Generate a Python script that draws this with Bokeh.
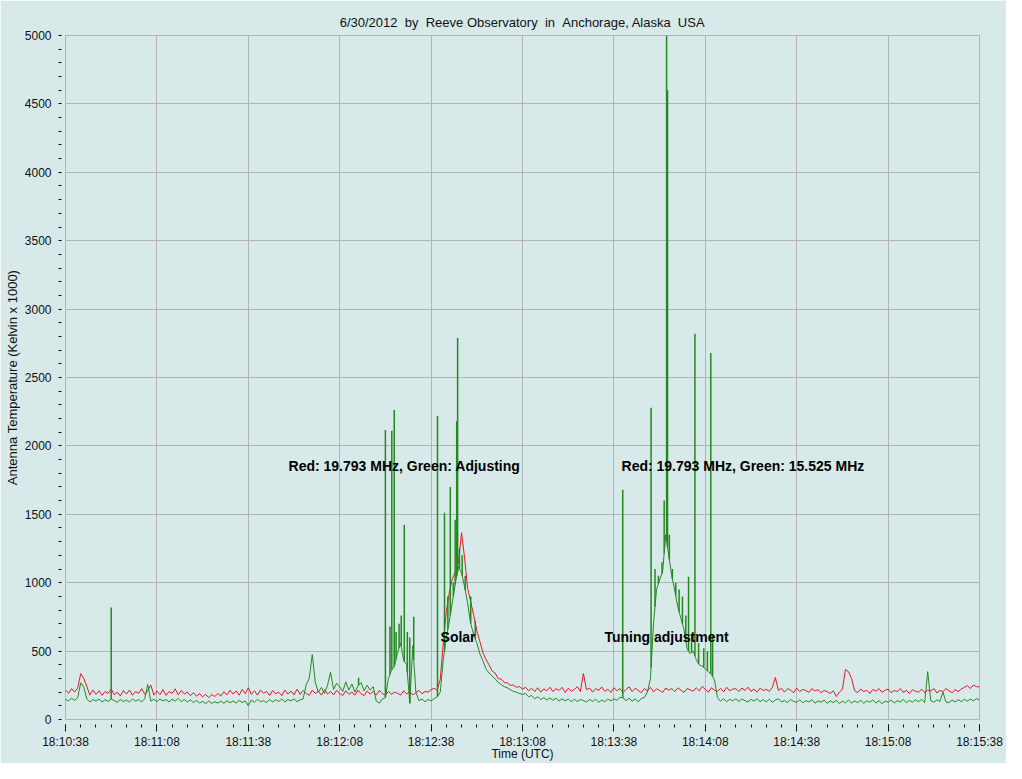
import numpy as np
from bokeh.plotting import figure
from bokeh.models import FixedTicker, Range1d, Label
from bokeh.embed import file_html
from bokeh.resources import INLINE

# ---------------- data ----------------
# time in seconds after 18:10:38 UTC, one sample per second
seconds = list(range(0, 301))

red_19793 = [
    215, 192, 226, 200, 230, 335, 300, 242, 178, 216,
    184, 210, 176, 205, 190, 222, 181, 200, 172, 212,
    186, 215, 178, 204, 192, 226, 184, 210, 252, 178,
    208, 182, 219, 176, 205, 190, 224, 180, 212, 186,
    201, 174, 196, 170, 190, 165, 185, 160, 182, 168,
    190, 172, 203, 180, 214, 186, 208, 178, 220, 190,
    232, 184, 210, 178, 216, 192, 205, 176, 212, 188,
    200, 174, 215, 186, 208, 180, 222, 184, 212, 190,
    176, 214, 190, 206, 178, 218, 186, 204, 180, 212,
    190, 176, 210, 184, 200, 178, 215, 188, 174, 208,
    186, 205, 178, 212, 190, 176, 206, 184, 200, 192,
    178, 210, 186, 204, 180, 196, 212, 188, 205, 200,
    218, 228, 215, 292, 560, 790, 930, 1030, 1080, 1150,
    1365, 1180, 960, 860, 760, 650, 570, 490, 440, 400,
    355, 340, 300, 295, 270, 268, 250, 252, 236, 240,
    222, 236, 210, 228, 205, 232, 200, 224, 210, 236,
    204, 226, 212, 235, 198, 228, 206, 220, 240, 204,
    336, 218, 230, 200, 226, 212, 238, 206, 222, 198,
    232, 210, 226, 196, 220, 238, 204, 228, 212, 196,
    226, 208, 235, 202, 224, 212, 198, 230, 214, 226,
    204, 232, 214, 198, 226, 218, 206, 232, 210, 242,
    220, 200, 232, 214, 206, 228, 202, 236, 210, 222,
    226, 204, 230, 212, 236, 206, 222, 200, 230, 212,
    220, 206, 234, 307, 212, 228, 200, 226, 214, 196,
    230, 204, 220, 212, 198, 226, 208, 218, 196, 212,
    204, 190, 210, 168, 200, 222, 365, 350, 300, 212,
    196, 222, 204, 214, 190, 220, 206, 226, 198, 214,
    222, 196, 212, 204, 226, 198, 214, 190, 218, 206,
    200, 222, 196, 214, 208, 226, 194, 212, 204, 226,
    210, 196, 218, 204, 222, 235, 248, 226, 252, 240,
    238,
]

green_channel = [
    148, 136, 155, 140, 158, 268, 236, 150, 128, 146,
    134, 150, 128, 145, 132, 150, 138, 126, 146, 132,
    142, 128, 150, 134, 146, 128, 152, 256, 134, 148,
    130, 150, 136, 146, 128, 150, 134, 154, 130, 146,
    128, 144, 124, 140, 120, 132, 116, 134, 118, 130,
    120, 134, 118, 138, 122, 136, 120, 140, 124, 136,
    100, 142, 126, 148, 130, 138, 124, 146, 128, 144,
    132, 150, 128, 146, 136, 152, 130, 144, 150, 255,
    300, 475, 270, 200, 235, 190, 250, 345, 220, 265,
    240, 205, 275, 215, 260, 200, 245, 270, 210, 250,
    215, 240, 135, 120, 150, 160, 300, 360, 390, 490,
    560, 430, 400, 118, 540, 200, 138, 150, 130, 146,
    136, 152, 165, 200, 438, 600, 720, 860, 1000, 1117,
    1070, 970, 850, 700, 620, 560, 480, 430, 370, 340,
    320, 296, 272, 255, 240, 232, 218, 205, 200, 190,
    184, 190, 166, 176, 152, 166, 146, 160, 142, 158,
    140, 156, 134, 152, 136, 150, 130, 148, 132, 146,
    138, 128, 146, 132, 148, 126, 142, 130, 150, 136,
    152, 140, 162, 158, 138, 156, 134, 150, 130, 154,
    160, 200, 300, 700, 950, 1020, 1080, 1350, 1200, 1050,
    940, 820, 740, 660, 520, 480, 500, 440, 400, 390,
    370, 350, 330, 290, 160, 134, 152, 130, 148, 136,
    152, 132, 150, 138, 128, 148, 134, 152, 130, 146,
    128, 148, 126, 142, 152, 128, 140, 124, 146, 132,
    126, 144, 122, 138, 128, 146, 120, 136, 126, 142,
    118, 136, 124, 140, 116, 134, 122, 142, 120, 136,
    124, 140, 118, 136, 126, 144, 120, 138, 116, 134,
    126, 142, 120, 138, 128, 146, 122, 140, 126, 144,
    130, 146, 124, 350, 138, 126, 144, 132, 200, 128,
    124, 142, 128, 146, 130, 148, 134, 150, 136, 152,
    144,
]

# narrow interference spikes / jagged strokes on the green channel (time s, peak value)
green_spike_t = [15, 96.2,
                 105, 106.5, 107.1, 107.9, 108.5, 109.5, 110.2, 111.2, 112.2, 113.0, 114.3,
                 122.1, 124.4, 125.5, 126.3, 127.3, 127.9, 128.4, 128.7, 129.3, 130.2, 131.2,
                 133.0, 134.5,
                 182.9, 192.2, 193.5, 194.6, 195.8, 196.5, 197.3, 197.6, 198.2, 199.2,
                 200.3, 201.4, 202.5, 203.6, 204.5, 205.5, 206.6, 207.8, 209.5, 210.7,
                 211.8, 212.4]
green_spike_peak = [818, 306,
                    2117, 680, 2110, 2263, 640, 700, 760, 1424, 640, 600, 752,
                    2219, 1511, 900, 1700, 1000, 1460, 2180, 2789, 1250, 1200, 1050,
                    900, 720,
                    1679, 2278, 1100, 1050, 1150, 1600, 5000, 4600, 1350, 1100,
                    1000, 950, 900, 760, 1044, 620, 2820, 560, 520, 500,
                    2680, 620]

x_tick_values = [0, 30, 60, 90, 120, 150, 180, 210, 240, 270, 300]
x_tick_labels = ["18:10:38", "18:11:08", "18:11:38", "18:12:08", "18:12:38",
                 "18:13:08", "18:13:38", "18:14:08", "18:14:38", "18:15:08",
                 "18:15:38"]

note_text = ["Red: 19.793 MHz, Green: Adjusting", "Red: 19.793 MHz, Green: 15.525 MHz",
             "Solar", "Tuning adjustment"]
note_t = [73.2, 182.5, 123.1, 176.9]
note_v = [1850, 1850, 600, 600]

# ---------------- figure ----------------
BG = "#d7eae9"
GRID = "#b3b3b3"
RED = "#e5182a"
GREEN = "#23891f"
FONT = "Liberation Sans"

p = figure(width=1006, height=763, output_backend="svg", toolbar_location=None,
           x_range=Range1d(0, 300), y_range=Range1d(0, 5000),
           min_border_left=65, min_border_right=27, min_border_top=35,
           min_border_bottom=43)
p.background_fill_color = BG
p.border_fill_color = BG
p.outline_line_color = GRID

p.title.text = "6/30/2012 \u00a0by \u00a0Reeve Observatory \u00a0in \u00a0Anchorage, Alaska \u00a0USA"
p.title.align = "center"
p.title.vertical_align = "middle"
p.title.text_font = FONT
p.title.text_font_size = "13px"
p.title.text_font_style = "normal"
p.title.text_color = "#111111"

p.xgrid.grid_line_color = GRID
p.ygrid.grid_line_color = GRID

p.xaxis.ticker = FixedTicker(ticks=x_tick_values, minor_ticks=list(range(0, 301, 5)))
p.xaxis.major_label_overrides = {v: s for v, s in zip(x_tick_values, x_tick_labels)}
p.yaxis.ticker = FixedTicker(ticks=list(range(0, 5001, 500)),
                             minor_ticks=list(range(0, 5001, 100)))

for ax in (p.xaxis[0], p.yaxis[0]):
    ax.axis_line_color = None
    ax.major_tick_line_color = "#111111"
    ax.minor_tick_line_color = "#111111"
    ax.major_label_text_font = FONT
    ax.major_label_text_font_size = "12px"
    ax.major_label_text_color = "#111111"
    ax.axis_label_text_font = FONT
    ax.axis_label_text_font_style = "normal"
    ax.axis_label_text_color = "#111111"

p.xaxis.major_tick_in = -5
p.xaxis.major_tick_out = 12
p.xaxis.minor_tick_in = -5
p.xaxis.minor_tick_out = 8
p.xaxis.major_label_standoff = 3
p.xaxis.axis_label = "Time (UTC)"
p.xaxis.axis_label_standoff = -5
p.xaxis.axis_label_text_font_size = "12px"

p.yaxis.major_tick_in = -4
p.yaxis.major_tick_out = 5
p.yaxis.minor_tick_in = -4
p.yaxis.minor_tick_out = 7
p.yaxis.major_label_standoff = 7
p.yaxis.axis_label = "Antenna Temperature (Kelvin x 1000)"
p.yaxis.axis_label_standoff = 2
p.yaxis.axis_label_text_font_size = "13px"

p.line(seconds, red_19793, line_color=RED, line_width=1)
p.line(seconds, green_channel, line_color=GREEN, line_width=1)
spike_base = np.interp(green_spike_t, seconds, green_channel)
p.segment(x0=green_spike_t, y0=spike_base, x1=green_spike_t, y1=green_spike_peak,
          line_color=GREEN, line_width=1.5)

for txt, tt, vv in zip(note_text, note_t, note_v):
    p.add_layout(Label(x=tt, y=vv, text=txt, text_font=FONT, text_font_size="14px",
                       text_font_style="bold", text_color="#000000",
                       text_baseline="middle", text_align="left"))

open("out.html", "w").write(file_html(p, INLINE))
